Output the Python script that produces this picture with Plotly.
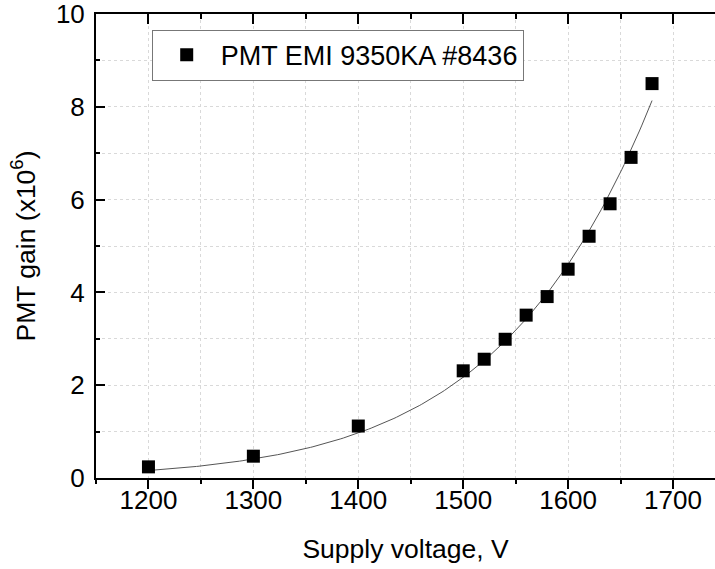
import numpy as np
import plotly.graph_objects as go

# Data
voltage = [1200, 1300, 1400, 1500, 1520, 1540, 1560, 1580, 1600, 1620, 1640, 1660, 1680]
gain = [0.24, 0.47, 1.12, 2.31, 2.56, 2.99, 3.51, 3.91, 4.50, 5.21, 5.91, 6.91, 8.50]
series_name = "PMT EMI 9350KA #8436"
x_ticks = [1200, 1300, 1400, 1500, 1600, 1700]
y_ticks = [0, 2, 4, 6, 8, 10]

# Allometric fit y = a * (x/1200)^b by nonlinear least squares (Gauss-Newton)
vx = np.asarray(voltage, float) / 1200.0
vy = np.asarray(gain, float)
b, loga = np.polyfit(np.log(vx), np.log(vy), 1)
a = np.exp(loga)
for _ in range(50):
    f = a * vx ** b
    J = np.column_stack([vx ** b, a * vx ** b * np.log(vx)])
    step, *_ = np.linalg.lstsq(J, vy - f, rcond=None)
    a += step[0]
    b += step[1]
fit_x = np.linspace(min(voltage), max(voltage), 200)
fit_y = a * (fit_x / 1200.0) ** b

FONT = "Arial, 'Liberation Sans', sans-serif"
GRID = "#d9d9d9"

fig = go.Figure()
fig.add_trace(go.Scatter(x=fit_x, y=fit_y, mode="lines",
                         line=dict(color="#555555", width=1), showlegend=False,
                         hoverinfo="skip"))
fig.add_trace(go.Scatter(x=voltage, y=gain, mode="markers", name=series_name,
                         marker=dict(symbol="square", size=13, color="black",
                                     line=dict(width=0))))
# invisible trace to activate top axis
fig.add_trace(go.Scatter(x=[voltage[0]], y=[gain[0]], xaxis="x2", mode="markers",
                         marker=dict(opacity=0), showlegend=False, hoverinfo="skip"))

fig.update_layout(
    width=715, height=569,
    margin=dict(l=96, r=0, t=14, b=91),
    paper_bgcolor="white", plot_bgcolor="white",
    font=dict(family=FONT, color="black"),
    showlegend=True,
    legend=dict(x=0.090, y=0.966, xanchor="left", yanchor="top",
                bordercolor="#777777", borderwidth=1, bgcolor="white",
                font=dict(size=27, family=FONT), itemwidth=58),
    xaxis=dict(
        range=[1150, 1740], tickvals=x_ticks, ticks="outside", ticklen=9, tickwidth=2,
        tickcolor="black", showline=True, linewidth=2, linecolor="black",
        showgrid=True, gridcolor=GRID, griddash="dot", gridwidth=1, zeroline=False,
        tickfont=dict(size=26), ticklabelstandoff=-11, ticklabeloverflow="allow",
        minor=dict(tickvals=[1150, 1250, 1350, 1450, 1550, 1650], ticks="outside",
                   ticklen=4, tickwidth=2, tickcolor="black", showgrid=True,
                   gridcolor=GRID, griddash="dot", gridwidth=1),
        title=dict(text="Supply voltage, V", font=dict(size=26.5), standoff=25),
        automargin=False,
    ),
    xaxis2=dict(
        range=[1150, 1740], overlaying="x", side="top", anchor="y",
        tickvals=x_ticks, ticks="inside", ticklen=10, tickwidth=2, tickcolor="black",
        showline=True, linewidth=2, linecolor="black", showticklabels=False,
        showgrid=False, zeroline=False,
        minor=dict(tickvals=[1150, 1250, 1350, 1450, 1550, 1650], ticks="inside",
                   ticklen=5, tickwidth=2, tickcolor="black", showgrid=False),
    ),
    yaxis=dict(
        range=[0, 10], tickvals=y_ticks, ticks="inside", ticklen=9, tickwidth=2,
        tickcolor="black", showline=True, linewidth=2, linecolor="black",
        showgrid=True, gridcolor=GRID, griddash="dot", gridwidth=1, zeroline=False,
        tickfont=dict(size=26), ticklabelstandoff=4, ticklabeloverflow="allow",
        minor=dict(tickvals=[1, 3, 5, 7, 9], ticks="inside", ticklen=4, tickwidth=2,
                   tickcolor="black", showgrid=True, gridcolor=GRID, griddash="dot",
                   gridwidth=1),
        title=dict(text="PMT gain (x10<sup>6</sup>)", font=dict(size=26.5), standoff=13),
        automargin=False,
    ),
)

fig.write_html("out.html")
